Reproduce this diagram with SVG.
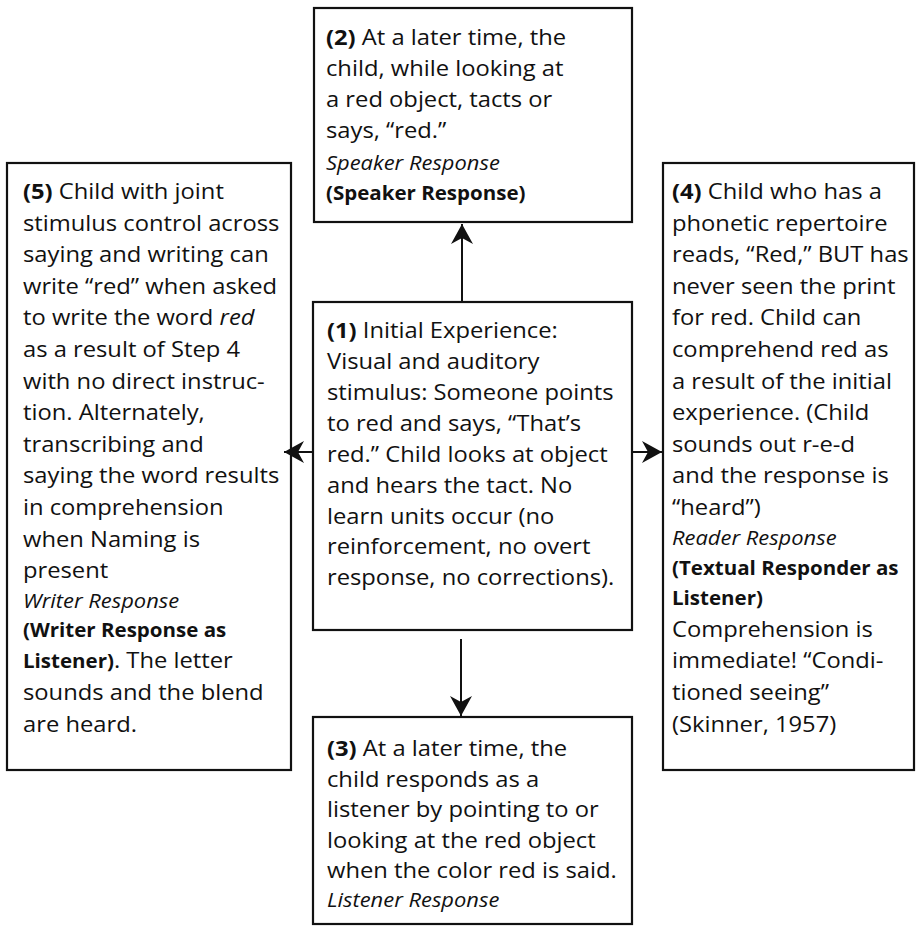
<svg xmlns="http://www.w3.org/2000/svg" width="916" height="928" viewBox="0 0 916 928">
<defs>
<style>
.box{fill:#fff;stroke:#111;stroke-width:2.2}
.t{font-family:"Open Sans","Liberation Sans",sans-serif;font-size:22px;fill:#111}
.b{font-weight:bold}
.s{font-size:19px}
.i{font-style:italic}
.si{font-size:20.3px;font-style:italic}
.c{stroke:#111;stroke-width:2;fill:none}
</style>
<marker id="ah" markerUnits="userSpaceOnUse" markerWidth="24" markerHeight="24" viewBox="-20 -12 22 24" refX="0" refY="0" orient="auto">
<path d="M0,0 L-20,-11 L-14,0 L-20,11 Z" fill="#111"/>
</marker>
</defs>
<rect width="916" height="928" fill="#fff"/>

<g id="n2">
<rect class="box" x="314" y="8" width="318" height="214"/>
<g transform="translate(326,0) scale(1.08,1)">
<text class="t"><tspan x="0" y="45"><tspan class="b">(2)</tspan> At a later time, the</tspan><tspan x="0" y="76">child, while looking at</tspan><tspan x="0" y="107">a red object, tacts or</tspan><tspan x="0" y="138">says, “red.”</tspan><tspan x="0" y="170" class="si">Speaker Response</tspan><tspan x="0" y="200" class="s b">(Speaker Response)</tspan></text>
</g>
</g>

<g id="n1">
<rect class="box" x="313" y="302" width="319" height="328"/>
<g transform="translate(327,0) scale(1.08,1)">
<text class="t"><tspan x="0" y="338"><tspan class="b">(1)</tspan> Initial Experience:</tspan><tspan x="0" y="369">Visual and auditory</tspan><tspan x="0" y="400">stimulus: Someone points</tspan><tspan x="0" y="431">to red and says, “That’s</tspan><tspan x="0" y="462">red.” Child looks at object</tspan><tspan x="0" y="493">and hears the tact. No</tspan><tspan x="0" y="524">learn units occur (no</tspan><tspan x="0" y="554">reinforcement, no overt</tspan><tspan x="0" y="585">response, no corrections).</tspan></text>
</g>
</g>

<g id="n3">
<rect class="box" x="313" y="717" width="319" height="207"/>
<g transform="translate(327,0) scale(1.08,1)">
<text class="t"><tspan x="0" y="756"><tspan class="b">(3)</tspan> At a later time, the</tspan><tspan x="0" y="787">child responds as a</tspan><tspan x="0" y="817">listener by pointing to or</tspan><tspan x="0" y="848">looking at the red object</tspan><tspan x="0" y="878">when the color red is said.</tspan><tspan x="0" y="907" class="si">Listener Response</tspan></text>
</g>
</g>

<g id="n5">
<rect class="box" x="7" y="163" width="284" height="607"/>
<g transform="translate(23,0) scale(1.08,1)">
<text class="t"><tspan x="0" y="199"><tspan class="b">(5)</tspan> Child with joint</tspan><tspan x="0" y="231">stimulus control across</tspan><tspan x="0" y="262">saying and writing can</tspan><tspan x="0" y="294">write “red” when asked</tspan><tspan x="0" y="325">to write the word <tspan class="i">red</tspan></tspan><tspan x="0" y="357">as a result of Step 4</tspan><tspan x="0" y="389">with no direct instruc-</tspan><tspan x="0" y="420">tion. Alternately,</tspan><tspan x="0" y="452">transcribing and</tspan><tspan x="0" y="483">saying the word results</tspan><tspan x="0" y="515">in comprehension</tspan><tspan x="0" y="547">when Naming is</tspan><tspan x="0" y="578">present</tspan><tspan x="0" y="608" class="si">Writer Response</tspan><tspan x="0" y="637" class="s b">(Writer Response as</tspan><tspan x="0" y="668"><tspan class="s b">Listener)</tspan>. The letter</tspan><tspan x="0" y="700">sounds and the blend</tspan><tspan x="0" y="732">are heard.</tspan></text>
</g>
</g>

<g id="n4">
<rect class="box" x="663" y="163" width="251" height="607"/>
<g transform="translate(672,0) scale(1.08,1)">
<text class="t"><tspan x="0" y="199"><tspan class="b">(4)</tspan> Child who has a</tspan><tspan x="0" y="231">phonetic repertoire</tspan><tspan x="0" y="262">reads, “Red,” BUT has</tspan><tspan x="0" y="294">never seen the print</tspan><tspan x="0" y="325">for red. Child can</tspan><tspan x="0" y="357">comprehend red as</tspan><tspan x="0" y="389">a result of the initial</tspan><tspan x="0" y="420">experience. (Child</tspan><tspan x="0" y="452">sounds out r-e-d</tspan><tspan x="0" y="483">and the response is</tspan><tspan x="0" y="515">“heard”)</tspan><tspan x="0" y="545" class="si">Reader Response</tspan><tspan x="0" y="575" class="s b">(Textual Responder as</tspan><tspan x="0" y="605" class="s b">Listener)</tspan><tspan x="0" y="637">Comprehension is</tspan><tspan x="0" y="668">immediate! “Condi-</tspan><tspan x="0" y="700">tioned seeing”</tspan><tspan x="0" y="732">(Skinner, 1957)</tspan></text>
</g>
</g>

<g id="connectors">
<path class="c" d="M462,302 L462,224" marker-end="url(#ah)"/>
<path class="c" d="M461,639 L461,716" marker-end="url(#ah)"/>
<path class="c" d="M313,452 L284,452" marker-end="url(#ah)"/>
<path class="c" d="M632,452 L662,452" marker-end="url(#ah)"/>
</g>
</svg>
